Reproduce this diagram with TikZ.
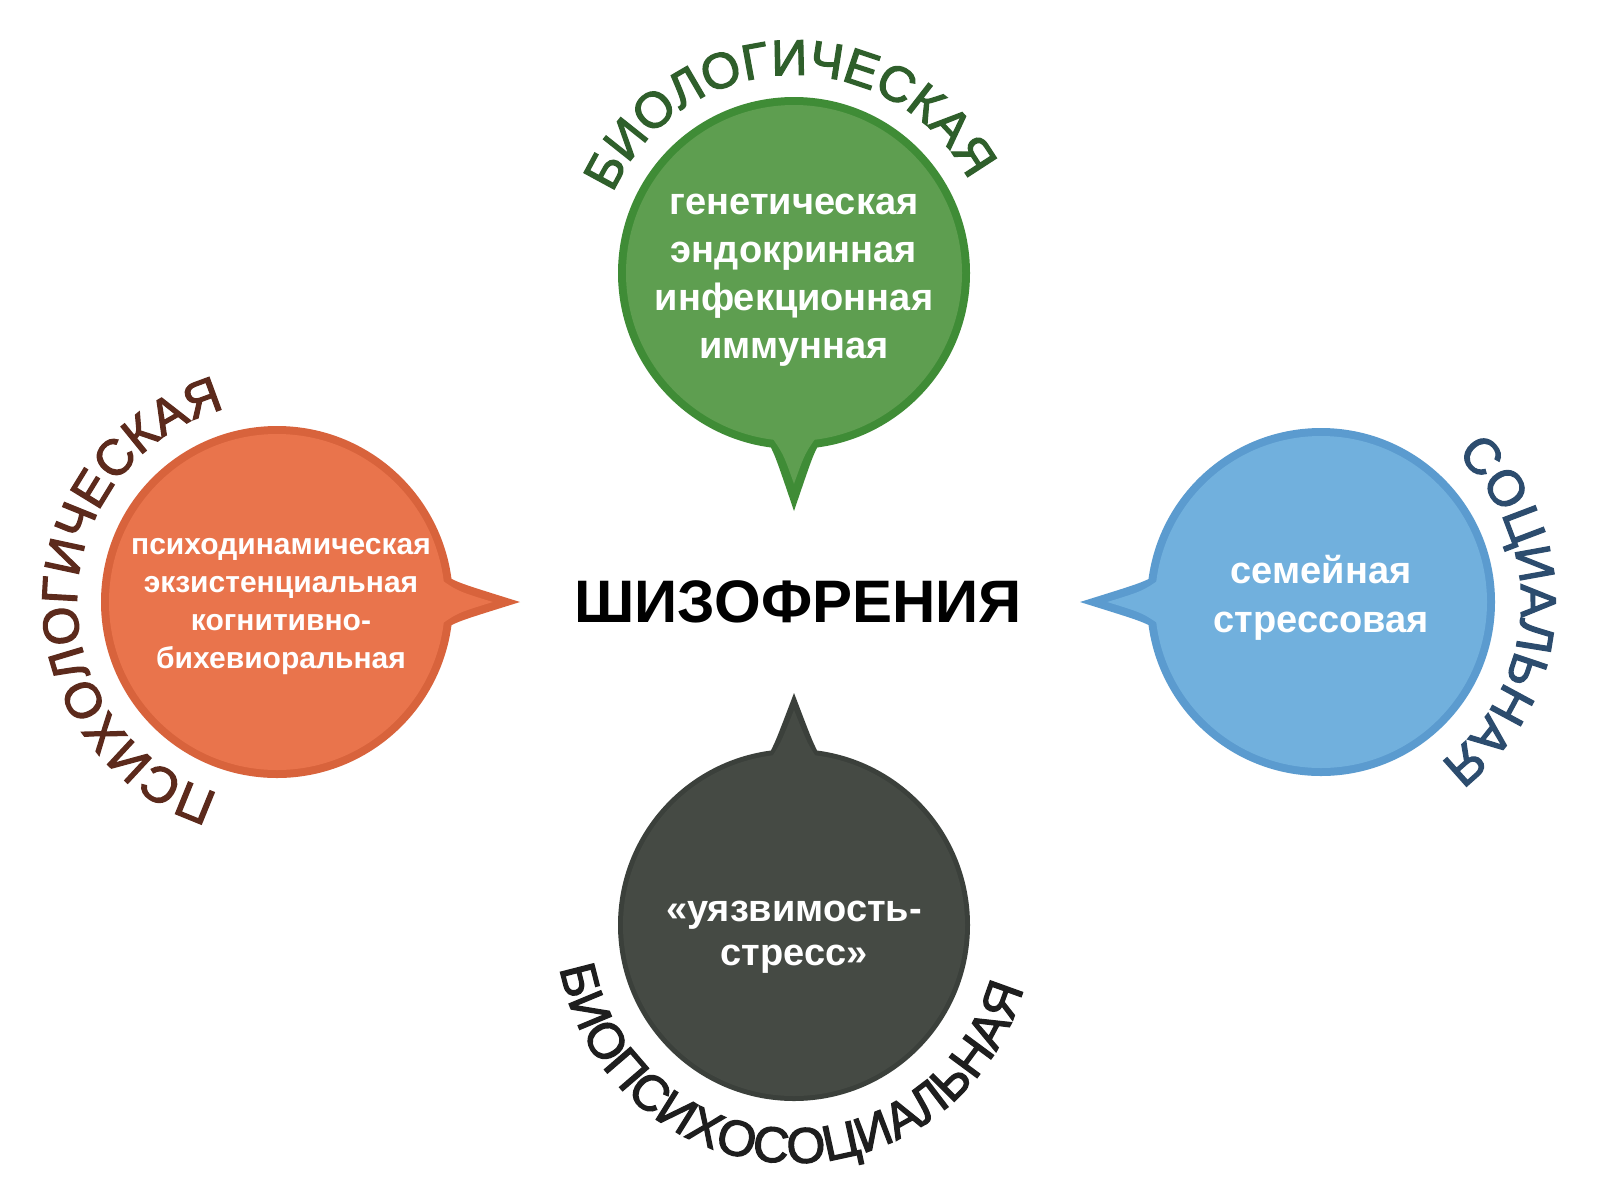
\documentclass[tikz,border=0pt]{standalone}
\usepackage{fontspec}
\setmainfont{Liberation Sans}
\newfontfamily\arcfam[FakeBold=2.5]{Liberation Sans}
\usetikzlibrary{calc,decorations.text}
\definecolor{gfill}{HTML}{5E9E50}
\definecolor{gbord}{HTML}{3F8C36}
\definecolor{gtext}{HTML}{2F5F2B}
\definecolor{ofill}{HTML}{E9744C}
\definecolor{obord}{HTML}{D8633C}
\definecolor{otext}{HTML}{5C2A1C}
\definecolor{bfill}{HTML}{71B0DD}
\definecolor{bbord}{HTML}{5B9BCF}
\definecolor{btext}{HTML}{2C4C6E}
\definecolor{dfill}{HTML}{454A44}
\definecolor{dbord}{HTML}{3B403B}
\definecolor{dtext}{HTML}{1E1E1E}
\newcommand\arcfont{\arcfam\fontsize{25}{30}\selectfont}
% #1 centre, #2 radius, #3 tail angle, #4 tip distance, #5 fill, #6 border, #7 border width
\newcommand\bubble[7]{%
  \fill[#6] (#1) circle[radius=#2];
  \fill[#6] ($(#1)+(#3+9:#2-6)$) .. controls ($(#1)+(#3:#2+6)+(#3+90:19)$) .. ($(#1)+(#3:#4)$)
     .. controls ($(#1)+(#3:#2+6)+(#3-90:19)$) .. ($(#1)+(#3-9:#2-6)$) -- cycle;
  \fill[#5] (#1) circle[radius=#2-#7];
  \fill[#5] ($(#1)+(#3+9:#2-#7-6)$) .. controls ($(#1)+(#3:#2+4)+(#3+90:19-#7)$) .. ($(#1)+(#3:#4-3.4*#7)$)
     .. controls ($(#1)+(#3:#2+4)+(#3-90:19-#7)$) .. ($(#1)+(#3-9:#2-#7-6)$) -- cycle;
}
\begin{document}
\begin{tikzpicture}[x=0.5pt,y=0.5pt,
  intext/.style={text=white, align=center, inner sep=0pt},
  arctext/.style={decorate, decoration={text along path, text align=center, text color=#1}}]
\useasboundingbox[fill=white] (0,0) rectangle (1600,-1200);
\coordinate (gc) at (794,-273);
\coordinate (oc) at (277,-602);
\coordinate (bc) at (1321,-602);
\coordinate (dc) at (794,-925);

\bubble{gc}{176}{-90}{238}{gfill}{gbord}{8}
\bubble{oc}{176}{0}{243}{ofill}{obord}{8}
\bubble{bc}{174}{180}{241}{bfill}{bbord}{8}
\bubble{dc}{176}{90}{232}{dfill}{dbord}{5}

\node[intext, font=\fontsize{19}{24}\selectfont\bfseries] (gt) at (794,-280)
  {генетическая\\эндокринная\\инфекционная\\иммунная};
\node[intext, font=\fontsize{15}{19}\selectfont\bfseries] (ot) at (281,-607)
  {психодинамическая\\экзистенциальная\\когнитивно-\\бихевиоральная};
\node[intext, font=\fontsize{19}{24.5}\selectfont\bfseries] (bt) at (1321,-598)
  {семейная\\стрессовая};
\node[intext, font=\fontsize{19}{22}\selectfont\bfseries] (dt) at (794,-937)
  {«уязвимость-\\стресс»};

\node[font=\fontsize{30}{36}\selectfont\bfseries, inner sep=0pt] (title) at (798,-602) {ШИЗОФРЕНИЯ};

\path[arctext=gtext, decoration={text={|\arcfont|БИОЛОГИЧЕСКАЯ}}]
  ($(gc)+(212:198)$) arc[start angle=212, end angle=-28, radius=198];
\path[arctext=otext, decoration={text={|\arcfont|ПСИХОЛОГИЧЕСКАЯ}}]
  ($(oc)+(299:200)$) arc[start angle=299, end angle=59, radius=200];
\path[arctext=btext, decoration={text={|\arcfont|СОЦИАЛЬНАЯ}}]
  ($(bc)+(117:200)$) arc[start angle=117, end angle=-123, radius=200];
\path[arctext=dtext, decoration={text={|\arcfont|БИОПСИХОСОЦИАЛЬНАЯ}}]
  ($(dc)+(147.5:238)$) arc[start angle=147.5, end angle=387.5, radius=238];
\end{tikzpicture}
\end{document}
